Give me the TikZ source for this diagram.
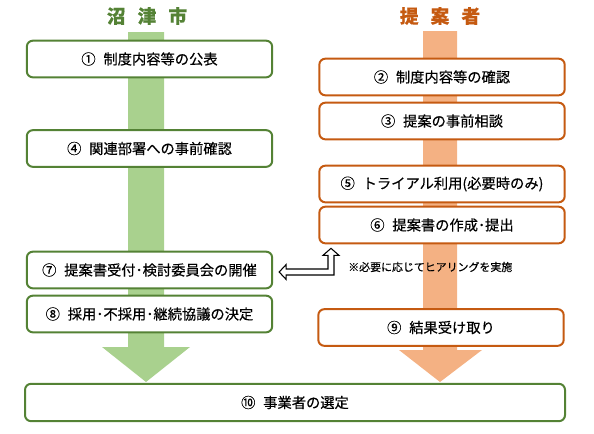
\documentclass[tikz,border=0pt]{standalone}
\usepackage{fontspec}
\setmainfont{Noto Sans CJK JP}[FakeBold=0.4]
\usetikzlibrary{arrows.meta,positioning,calc}
\definecolor{numazu}{HTML}{548235}
\definecolor{numazulight}{HTML}{A9D18E}
\definecolor{teian}{HTML}{C55A11}
\definecolor{teianlight}{HTML}{F4B183}
\newcommand{\nsp}{\hspace{0.55em}}
\tikzset{
  gbox/.style={draw=numazu, line width=1.5pt, fill=white, rounded corners=4.5pt,
    minimum width=184pt, minimum height=27.5pt, inner sep=0pt,
    font=\fontsize{10.7}{12}\selectfont},
  obox/.style={gbox, draw=teian},
  coltitle/.style={font=\fontsize{14}{16}\selectfont\bfseries},
  hollow/.style={draw=black, line width=0.8pt, fill=white, line join=miter},
}
\begin{document}
\begin{tikzpicture}[x=0.75pt,y=-0.75pt]
\useasboundingbox (0,0) rectangle (594,433);
% column bars
\fill[numazulight] (128,32) -- (164,32) -- (164,347) -- (190,347) -- (146,382)
  -- (102,347) -- (128,347) -- cycle;
\fill[teianlight] (423,31) -- (457,31) -- (457,350) -- (482,350) -- (440,382)
  -- (399,350) -- (423,350) -- cycle;
% titles
\node[coltitle, text=numazu] (tcity) at (147,16) {沼\hspace{0.65em}津\hspace{0.65em}市};
\node[coltitle, text=teian] (tprop) at (440,16) {提\hspace{0.65em}案\hspace{0.65em}者};
% Numazu city
\node[gbox] (s1) at (149.5,59) {①\nsp 制度内容等の公表};
\node[gbox] (s4) at (149.5,148.5) {④\nsp 関連部署への事前確認};
\node[gbox] (s7) at (149.5,270) {⑦\nsp 提案書受付･検討委員会の開催};
\node[gbox] (s8) at (149.5,314) {⑧\nsp 採用･不採用･継続協議の決定};
% proposer
\node[obox] (s2) at (442,77) {②\nsp 制度内容等の確認};
\node[obox] (s3) at (442,121) {③\nsp 提案の事前相談};
\node[obox] (s5) at (442,184) {⑤\nsp トライアル利用(必要時のみ)};
\node[obox] (s6) at (442,225) {⑥\nsp 提案書の作成･提出};
\node[obox] (s9) at (441,327.5) {⑨\nsp 結果受け取り};
% result
\node[gbox, minimum width=405pt, minimum height=28pt] (s10) at (295,402.5) {⑩\nsp 事業者の選定};
% hearing
\node[anchor=west, inner sep=0pt, font=\fontsize{8.2}{10}\selectfont] (note) at (348,267) {※必要に応じてヒアリングを実施};
\coordinate (hl) at ([shift={(4.5pt,-1.5pt)}]s7.east);
\coordinate (hear) at ([xshift=-83.25pt,yshift=-3pt]s6.south);
\draw[hollow] let \p1=(hl), \p2=(hear) in
  (\x1,\y1) -- ({\x1+5.25pt},{\y1+5.6pt}) -- ({\x1+5.25pt},{\y1+2.25pt})
  -- ({\x2-2.25pt},{\y1+2.25pt}) -- ({\x2-2.25pt},{\y2-5.25pt})
  -- ({\x2-6pt},{\y2-5.25pt}) -- (\x2,\y2) -- ({\x2+6pt},{\y2-5.25pt})
  -- ({\x2+2.25pt},{\y2-5.25pt}) -- ({\x2+2.25pt},{\y1-2.25pt})
  -- ({\x1+5.25pt},{\y1-2.25pt}) -- ({\x1+5.25pt},{\y1-5.6pt}) -- cycle;
\end{tikzpicture}
\end{document}
